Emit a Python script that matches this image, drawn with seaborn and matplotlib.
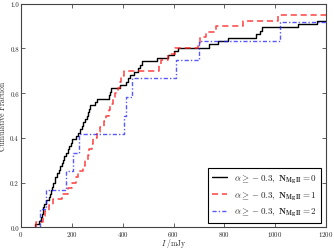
import numpy as np
import pandas as pd
import matplotlib
matplotlib.use("Agg")
import matplotlib.pyplot as plt
import seaborn as sns

# flux values (mJy) per MgII-absorber count group
# (values past 1200 mJy only set the normalisation, they are off-axis)
flux_n0 = [55, 72, 78, 82, 85, 88, 92, 98, 110, 115, 118, 122, 127,
           132, 135, 142, 150, 155, 160, 166, 170, 178, 183, 190, 195, 200,
           215, 225, 232, 240, 245, 252, 258, 262, 268, 270, 290, 299,
           345, 350, 353, 391, 412, 420, 428, 445, 460, 470, 475, 535,
           580, 600, 618, 740, 776, 816, 926, 940, 950, 1090, 1163,
           1250, 1400, 1600, 2000, 3000]
flux_n1 = [58, 85, 95, 110, 125, 160, 185, 200, 215, 225, 245, 252, 262,
           268, 278, 285, 298, 312, 325, 335, 345, 352, 362, 370, 380, 388,
           395, 404, 543, 550, 580, 605, 695, 705, 727, 767, 874, 1011,
           1300, 1500]
flux_n2 = [75, 100, 175, 206, 228, 404, 412, 437, 609, 701, 1021, 1500]

labels = [r'$\alpha \geq -0.3,\ \mathbf{N}_{\mathbf{MgII}} = 0$',
          r'$\alpha \geq -0.3,\ \mathbf{N}_{\mathbf{MgII}} = 1$',
          r'$\alpha \geq -0.3,\ \mathbf{N}_{\mathbf{MgII}} = 2$']

sns.set_style("ticks")
plt.rcParams['font.family'] = 'serif'
plt.rcParams['font.serif'] = ['cmr10', 'DejaVu Serif']
plt.rcParams['mathtext.fontset'] = 'cm'
plt.rcParams['axes.formatter.use_mathtext'] = True

fig, ax = plt.subplots(figsize=(3.34, 2.51), dpi=100)
plt.subplots_adjust(left=0.063, right=0.976, top=0.981, bottom=0.09)

sns.ecdfplot(x=flux_n0, ax=ax, color='k', lw=1.0, ls='-', label=labels[0])
sns.ecdfplot(x=flux_n1, ax=ax, color='#ff2020', lw=1.1, ls=(0, (4, 2.5)),
             alpha=0.85, label=labels[1])
sns.ecdfplot(x=flux_n2, ax=ax, color='#2020ff', lw=1.0,
             ls=(0, (3, 1.5, 1, 1.5)), alpha=0.75, label=labels[2])

ax.set_xlim(0, 1200)
ax.set_ylim(0, 1.0)
ax.set_xticks(np.arange(0, 1201, 200))
ax.set_yticks(np.arange(0, 1.01, 0.2))
ax.set_yticklabels(['0.0', '0.2', '0.4', '0.6', '0.8', '1.0'])
ax.tick_params(direction='in', top=True, right=True, labelsize=5,
               length=3, width=0.5, pad=1.5)
for sp in ax.spines.values():
    sp.set_linewidth(0.8)
    sp.set_color('#444444')
ax.set_xlabel(r'$I\ /\mathrm{mJy}$', fontsize=5.5, labelpad=0, va='center')
ax.xaxis.set_label_coords(0.5, -0.066)
ax.set_ylabel('Cumulative Fraction', fontsize=5.5, labelpad=0)
ax.yaxis.set_label_coords(-0.045, 0.5)

leg = ax.legend(loc='lower right', fontsize=6.5, fancybox=False,
                edgecolor='k', framealpha=1, handlelength=1.6,
                labelspacing=0.5, borderpad=0.5)
leg.get_frame().set_linewidth(0.8)

plt.savefig('out.png', dpi=100)
plt.close()
